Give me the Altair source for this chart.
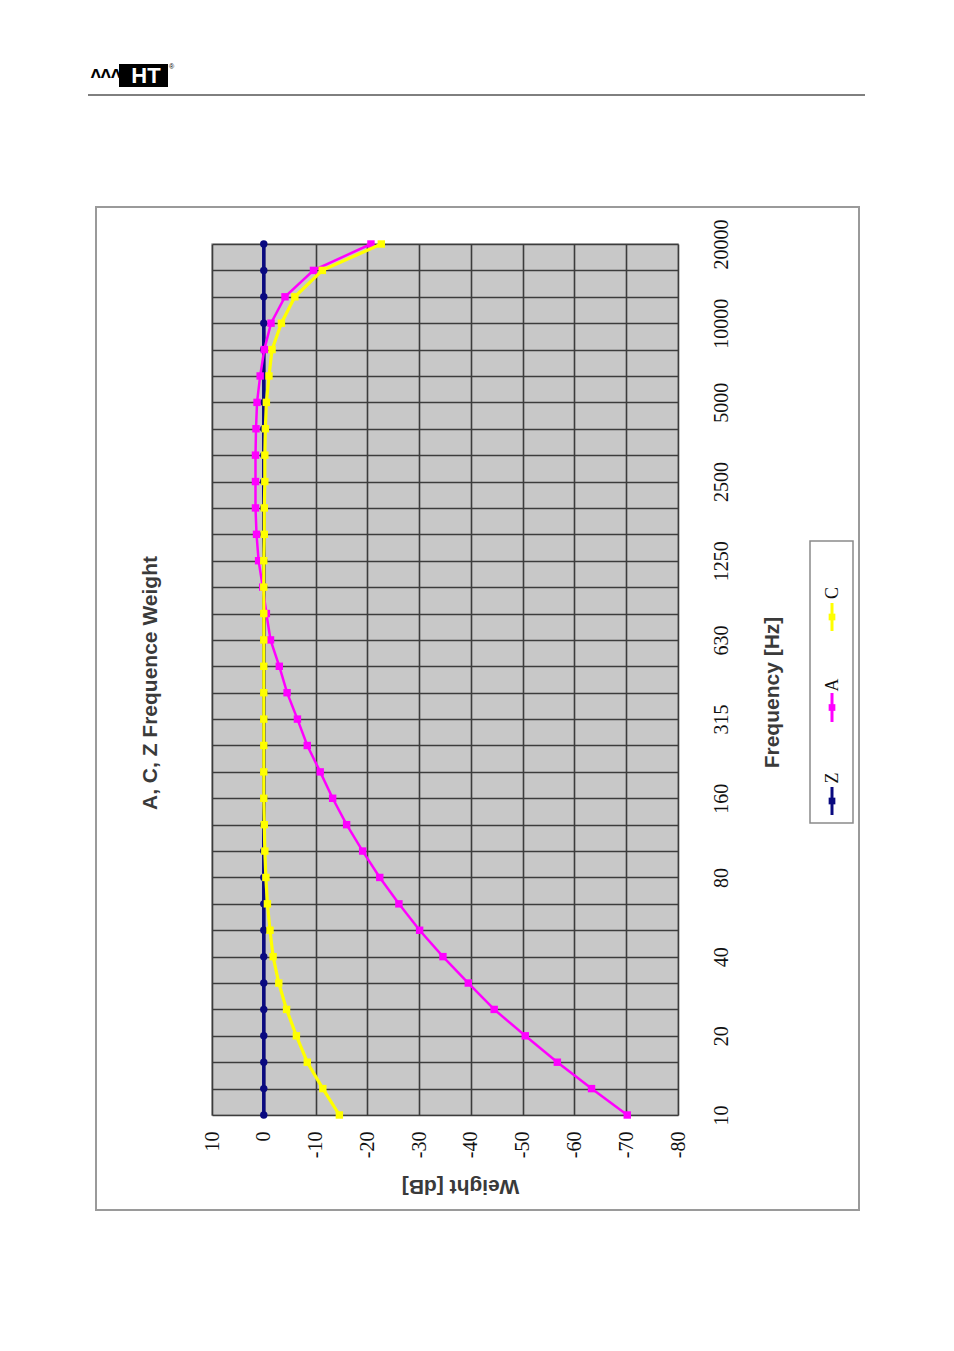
import altair as alt
import pandas as pd

# ---------------- data ----------------
FREQ_LABELS = ["10", "12.5", "16", "20", "25", "31.5", "40", "50", "63", "80",
               "100", "125", "160", "200", "250", "315", "400", "500", "630", "800",
               "1000", "1250", "1600", "2000", "2500", "3150", "4000", "5000", "6300",
               "8000", "10000", "12500", "16000", "20000"]
A_DB = [-70.2, -63.3, -56.7, -50.5, -44.5, -39.5, -34.6, -30.1, -26.1, -22.4,
        -19.1, -16.0, -13.3, -10.9, -8.4, -6.5, -4.5, -3.0, -1.3, -0.5,
        0.2, 1.0, 1.4, 1.6, 1.6, 1.6, 1.5, 1.3, 0.7, -0.1,
        -1.4, -4.1, -9.6, -20.7]
C_DB = [-14.6, -11.4, -8.4, -6.3, -4.4, -2.9, -1.8, -1.2, -0.7, -0.4,
        -0.2, -0.1, 0.0, 0.0, 0.0, 0.0, 0.0, 0.0, 0.0, 0.0,
        0.0, 0.0, -0.1, -0.1, -0.2, -0.2, -0.3, -0.5, -1.0, -1.6,
        -3.4, -6.0, -11.3, -22.7]
Z_DB = [0.0] * 34
WEIGHT_TICKS = [10, 0, -10, -20, -30, -40, -50, -60, -70, -80]
SERIES = ["Z", "A", "C"]
COLORS = ["#0A0A80", "#FF00FF", "#FFFF00"]

rows = []
for name, vals in zip(SERIES, [Z_DB, A_DB, C_DB]):
    for i, (f, v) in enumerate(zip(FREQ_LABELS, vals)):
        rows.append({"series": name, "idx": i, "freq": f, "db": v})
df = pd.DataFrame(rows)
one = pd.DataFrame({"k": [0]})

W, H = 466, 871
OX, OY = 212, 244  # plot origin on the page

label_arr = "[" + ",".join("'" + s + "'" for s in FREQ_LABELS) + "]"

x_enc = alt.X(
    "db:Q",
    scale=alt.Scale(domain=[10, -80], nice=False, zero=False),
    axis=alt.Axis(
        values=WEIGHT_TICKS, orient="bottom", labelAngle=270, labelAlign="right",
        labelBaseline="middle", labelPadding=16, ticks=False, tickSize=0, domain=False,
        labelExpr="datum.value + ''", labelFont="Liberation Serif", labelFontSize=20,
        labelColor="#111111", grid=True, gridColor="#3c3c3c", gridWidth=1.6,
        title="Weight [dB]", titleAngle=180, titleX=460 - OX, titleY=1185 - (OY + H),
        titleAlign="center", titleBaseline="middle", titleFont="Liberation Sans",
        titleFontSize=21, titleFontWeight="bold", titleColor="#3a3a3a",
    ),
)
y_enc = alt.Y(
    "idx:Q",
    scale=alt.Scale(domain=[0, len(FREQ_LABELS) - 1], nice=False, zero=False),
    axis=alt.Axis(
        values=list(range(len(FREQ_LABELS))), orient="right", labelAngle=270,
        labelAlign="center", labelBaseline="top", labelPadding=33, ticks=False,
        tickSize=0, domain=False,
        labelExpr="datum.value % 3 == 0 ? " + label_arr + "[datum.value] : ''",
        labelFont="Liberation Serif", labelFontSize=20, labelColor="#111111",
        labelOverlap=False, grid=True, gridColor="#3c3c3c", gridWidth=1.6,
        title="Frequency [Hz]", titleAngle=270, titleX=772 - (OX + W),
        titleY=692 - OY, titleAlign="center", titleBaseline="middle",
        titleFont="Liberation Sans", titleFontSize=21, titleFontWeight="bold",
        titleColor="#3a3a3a",
    ),
)
color_enc = alt.Color("series:N", scale=alt.Scale(domain=SERIES, range=COLORS), legend=None)


def series_layer(name, width, shape):
    return alt.Chart(df).transform_filter(alt.datum.series == name).mark_line(
        strokeWidth=width,
        point=alt.OverlayMarkDef(filled=True, size=55, shape=shape,
                                 color=COLORS[SERIES.index(name)]),
    ).encode(x=x_enc, y=y_enc, color=color_enc, order="idx:Q")


z_layer = series_layer("Z", 3.5, "circle")
a_layer = series_layer("A", 2.5, "square")
c_layer = series_layer("C", 3.2, "square")

# ---------------- decorations (page frame, header, title, legend) ----------------
frame = alt.Chart(one).mark_rect(fill=None, stroke="#9a9a9a", strokeWidth=2).encode(
    x=alt.value(96 - OX), x2=alt.value(859 - OX), y=alt.value(207 - OY), y2=alt.value(1210 - OY))
header_rule = alt.Chart(one).mark_rule(color="#000000", strokeWidth=1).encode(
    x=alt.value(88 - OX), x2=alt.value(865 - OX), y=alt.value(95 - OY))
logo_box = alt.Chart(one).mark_rect(color="#000000").encode(
    x=alt.value(119 - OX), x2=alt.value(168 - OX), y=alt.value(64 - OY), y2=alt.value(87 - OY))
logo_ht = alt.Chart(one).mark_text(text="HT", font="Liberation Sans", fontWeight="bold",
                                   fontSize=22, color="#ffffff", align="center",
                                   baseline="middle").encode(
    x=alt.value(146 - OX), y=alt.value(76 - OY))
logo_wave = alt.Chart(one).mark_text(text="ᐱᐱᐱ", font="DejaVu Sans", fontWeight="bold",
                                     fontSize=13, color="#000000", align="right",
                                     baseline="middle").encode(
    x=alt.value(121 - OX), y=alt.value(74 - OY))
logo_r = alt.Chart(one).mark_text(text="®", font="Liberation Sans", fontSize=7,
                                  color="#000000", align="left", baseline="middle").encode(
    x=alt.value(169 - OX), y=alt.value(67 - OY))
title = alt.Chart(one).mark_text(text="A, C, Z Frequence Weight", font="Liberation Sans",
                                 fontWeight="bold", fontSize=21, color="#3a3a3a", angle=270,
                                 align="center", baseline="middle").encode(
    x=alt.value(151 - OX), y=alt.value(683 - OY))

legend_box = alt.Chart(one).mark_rect(fill="#ffffff", stroke="#8a8a8a", strokeWidth=1.5).encode(
    x=alt.value(810 - OX), x2=alt.value(853 - OX), y=alt.value(541 - OY), y2=alt.value(823 - OY))
legend_layers = [legend_box]
LEG_POS = {"C": (593, 603, 631), "A": (685, 693, 722), "Z": (778, 787, 815)}
for name in SERIES:
    ly, l0, l1 = LEG_POS[name]
    col = COLORS[SERIES.index(name)]
    legend_layers.append(alt.Chart(one).mark_rule(color=col, strokeWidth=3).encode(
        x=alt.value(832 - OX), y=alt.value(l0 - OY), y2=alt.value(l1 - OY)))
    legend_layers.append(alt.Chart(one).mark_point(color=col, filled=True, size=45,
                                                   shape="square", opacity=1).encode(
        x=alt.value(832 - OX), y=alt.value((l0 + l1) / 2 - OY)))
    legend_layers.append(alt.Chart(one).mark_text(text=name, font="Liberation Serif",
                                                  fontSize=18, color="#111111", angle=270,
                                                  align="center", baseline="middle").encode(
        x=alt.value(833 - OX), y=alt.value(ly - OY)))

chart = alt.layer(
    frame, header_rule, logo_box, logo_ht, logo_wave, logo_r, title,
    z_layer, a_layer, c_layer, *legend_layers,
).properties(
    width=W, height=H,
    autosize=alt.AutoSizeParams(type="none"),
    padding={"left": OX, "top": OY, "right": 954 - OX - W, "bottom": 1351 - OY - H},
    background="#ffffff",
).configure_view(fill="#C8C8C8", stroke="#a8a8a8", strokeWidth=1.5)

chart.save("out.html", embed_options={"renderer": "svg", "actions": False})
